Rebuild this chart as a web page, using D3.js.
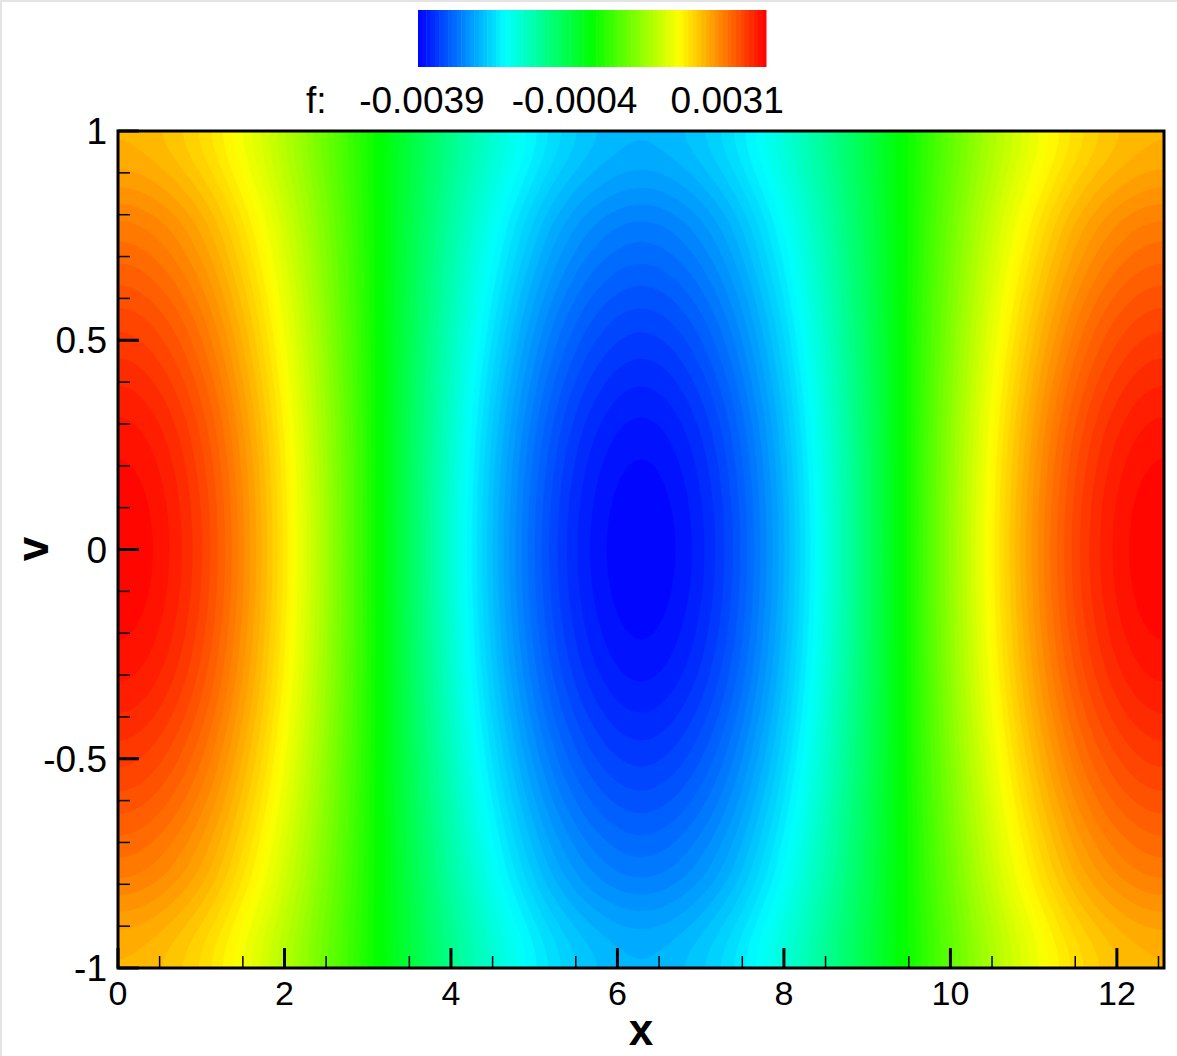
<!DOCTYPE html>
<html>
<head>
<meta charset="utf-8">
<script src="https://cdn.jsdelivr.net/npm/d3@7"></script>
<style>
body { margin: 0; background: #fff; }
text { font-family: "Liberation Sans", Arial, sans-serif; fill: #000; }
</style>
</head>
<body>
<svg id="chart"></svg>
<script>
// f read along v = 0 at evenly spaced x positions (0 .. 4*pi)
const xSamples = [0, 0.524, 1.047, 1.571, 2.094, 2.618, 3.142, 3.665, 4.189, 4.712, 5.236, 5.760,
    6.283, 6.807, 7.330, 7.854, 8.378, 8.901, 9.425, 9.948, 10.472, 10.996, 11.519, 12.043, 12.566];
const fAtV0 = [0.00399, 0.00385, 0.00346, 0.00282, 0.00200, 0.00103, 0, -0.00103, -0.00200, -0.00282, -0.00346, -0.00385,
    -0.00399, -0.00385, -0.00346, -0.00282, -0.00200, -0.00103, 0, 0.00103, 0.00200, 0.00282, 0.00346, 0.00385, 0.00399];
// relative strength of f across v (-1 .. 1)
const vSamples = [-1, -0.75, -0.5, -0.25, 0, 0.25, 0.5, 0.75, 1];
const vShape = [0.65, 0.77, 0.885, 0.97, 1, 0.97, 0.885, 0.77, 0.65];

// contour levels: -0.0039 .. 0.0039 every 0.0001, legend range is the data range
const fMin = -0.00399, fMax = 0.00399;
const levels = d3.range(-39, 40).map(k => k / 10000);
const legendTicks = [-0.0039, -0.0004, 0.0031];
const legendLabels = ["-0.0039", "-0.0004", "0.0031"];
const xTicks = [0, 2, 4, 6, 8, 10, 12];
const yTicks = [-1, -0.5, 0, 0.5, 1];

const width = 1177, height = 1056;
const plot = {left: 118, right: 1164, top: 131, bottom: 968};
const xMax = xSamples[xSamples.length - 1];

const svg = d3.select("#chart")
    .attr("width", width)
    .attr("height", height);

// faint border of the image
svg.append("rect").attr("x", 0).attr("y", 0).attr("width", width).attr("height", 2).attr("fill", "#e3e3e3");
svg.append("rect").attr("x", 0).attr("y", 0).attr("width", 2).attr("height", height).attr("fill", "#e3e3e3");

const xScale = d3.scaleLinear().domain([0, xMax]).range([plot.left, plot.right]);
const yScale = d3.scaleLinear().domain([-1, 1]).range([plot.bottom, plot.top]);

const colour = d3.scaleLinear()
    .domain([fMin, fMin / 2, 0, fMax / 2, fMax])
    .range(["#0000ff", "#00ffff", "#00ff00", "#ffff00", "#ff0000"]);

// band edges: data min, every level, data max
const edges = [fMin].concat(levels, [fMax]);
const bandColour = i => colour((edges[i] + edges[i + 1]) / 2);

// smooth curve through the read samples (Catmull-Rom)
function through(vals) {
    const n = vals.length - 1;
    return t => {
        const s = Math.max(0, Math.min(n, t * n));
        const i = Math.min(n - 1, Math.floor(s));
        const u = s - i;
        const p0 = vals[i > 0 ? i - 1 : 1], p1 = vals[i], p2 = vals[i + 1], p3 = vals[i + 2 <= n ? i + 2 : n - 1];
        return 0.5 * (2 * p1 + (p2 - p0) * u + (2 * p0 - 5 * p1 + 4 * p2 - p3) * u * u + (3 * p1 - p0 - 3 * p2 + p3) * u * u * u);
    };
}

const alongX = through(fAtV0);
const alongV = through(vShape);
const nx = 520, ny = 260;
const values = new Array(nx * ny);
for (let j = 0; j < ny; j++) {
    const g = alongV(1 - (j + 0.5) / ny);
    for (let i = 0; i < nx; i++) {
        values[j * nx + i] = alongX((i + 0.5) / nx) * g;
    }
}

const contours = d3.contours().size([nx, ny]).thresholds(levels)(values);

const toPlot = d3.geoTransform({
    point: function(x, y) {
        this.stream.point(xScale(x / nx * xMax), yScale(1 - y / ny * 2));
    }
});
const path = d3.geoPath(toPlot);

svg.append("clipPath").attr("id", "plot-clip")
    .append("rect")
    .attr("x", plot.left).attr("y", plot.top)
    .attr("width", plot.right - plot.left).attr("height", plot.bottom - plot.top);

const field = svg.append("g").attr("clip-path", "url(#plot-clip)");
field.append("rect")
    .attr("x", plot.left).attr("y", plot.top)
    .attr("width", plot.right - plot.left).attr("height", plot.bottom - plot.top)
    .attr("fill", bandColour(0));
field.selectAll("path")
    .data(contours)
    .enter()
    .append("path")
    .attr("d", path)
    .attr("fill", (d, i) => bandColour(i + 1))
    .attr("stroke", (d, i) => bandColour(i + 1))
    .attr("stroke-width", 0.6);

// ticks, pointing inward
const ticks = svg.append("g").attr("stroke", "#000");
ticks.selectAll(".ymajor").data(yTicks).enter().append("line")
    .attr("x1", plot.left).attr("x2", plot.left + 21)
    .attr("y1", d => yScale(d)).attr("y2", d => yScale(d))
    .attr("stroke-width", 3);
ticks.selectAll(".yminor").data(d3.range(-10, 11).filter(k => k % 5 != 0).map(k => k / 10)).enter().append("line")
    .attr("x1", plot.left).attr("x2", plot.left + 12)
    .attr("y1", d => yScale(d)).attr("y2", d => yScale(d))
    .attr("stroke-width", 1.5);
ticks.selectAll(".xmajor").data(xTicks).enter().append("line")
    .attr("x1", d => xScale(d)).attr("x2", d => xScale(d))
    .attr("y1", plot.bottom).attr("y2", plot.bottom - 20)
    .attr("stroke-width", 3);
ticks.selectAll(".xminor").data(d3.range(1, 26, 2).map(k => k / 2)).enter().append("line")
    .attr("x1", d => xScale(d)).attr("x2", d => xScale(d))
    .attr("y1", plot.bottom).attr("y2", plot.bottom - 12)
    .attr("stroke-width", 1.5);

// frame
svg.append("rect")
    .attr("x", plot.left).attr("y", plot.top)
    .attr("width", plot.right - plot.left).attr("height", plot.bottom - plot.top)
    .attr("fill", "none").attr("stroke", "#000").attr("stroke-width", 3);

// tick labels
svg.selectAll(".xlab").data(xTicks).enter().append("text")
    .attr("x", d => xScale(d)).attr("y", 1005)
    .attr("text-anchor", "middle")
    .style("font-size", "34px")
    .text(d => d);
svg.selectAll(".ylab").data(yTicks).enter().append("text")
    .attr("x", 107).attr("y", d => yScale(d) + 13)
    .attr("text-anchor", "end")
    .style("font-size", "37px")
    .text(d => d);

// axis titles
svg.append("text")
    .attr("x", 641).attr("y", 1045)
    .attr("text-anchor", "middle")
    .style("font-size", "44px").style("font-weight", "bold")
    .text("x");
svg.append("text")
    .attr("transform", "translate(48,549) rotate(-90)")
    .attr("text-anchor", "middle")
    .style("font-size", "44px").style("font-weight", "bold")
    .text("v");

// colour legend
const legendScale = d3.scaleLinear().domain([fMin, fMax]).range([418, 766]);
const legend = svg.append("g");
legend.selectAll("rect")
    .data(d3.range(edges.length - 1))
    .enter()
    .append("rect")
    .attr("x", i => legendScale(edges[i]))
    .attr("y", 10)
    .attr("width", i => legendScale(edges[i + 1]) - legendScale(edges[i]) + 0.5)
    .attr("height", 57)
    .attr("fill", i => bandColour(i));
legend.append("text")
    .attr("x", 306).attr("y", 113)
    .style("font-size", "37px")
    .text("f:");
legend.selectAll(".lt")
    .data(legendTicks)
    .enter()
    .append("text")
    .attr("x", d => legendScale(d)).attr("y", 113)
    .attr("text-anchor", "middle")
    .style("font-size", "37px")
    .text((d, i) => legendLabels[i]);
</script>
</body>
</html>
